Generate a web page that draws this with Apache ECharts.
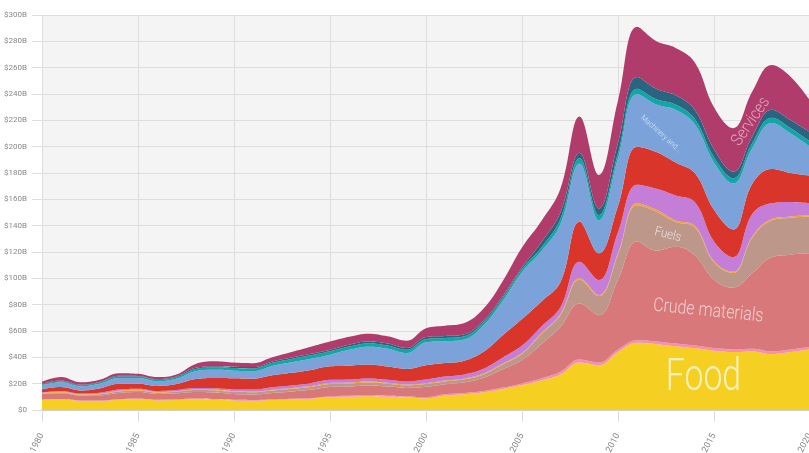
<!DOCTYPE html>
<html>
<head>
<meta charset="utf-8">
<title>Exports by product</title>
<script src="https://cdn.jsdelivr.net/npm/echarts@6/dist/echarts.min.js"></script>
<style>
  html, body { margin: 0; padding: 0; background: #fff; }
  #chart { width: 809px; height: 453px; }
</style>
</head>
<body>
<div id="chart"></div>
<script>
// years (x axis)
var years = ['1980','1981','1982','1983','1984','1985','1986','1987','1988','1989',
             '1990','1991','1992','1993','1994','1995','1996','1997','1998','1999',
             '2000','2001','2002','2003','2004','2005','2006','2007','2008','2009',
             '2010','2011','2012','2013','2014','2015','2016','2017','2018','2019','2020'];

// values in $B, bottom layer first
var food      = [7.6,7.9,6.9,6.8,7.8,8.3,7.3,7.6,8.2,7.8, 7.3,7.0,7.6,8.0,8.5,9.8,10.0,10.5,10.0,9.5, 8.8,11,12,13.5,16,19,22.5,27,36,34, 44,51,50,48.5,47,45,44,44.5,42.5,44,46];
var beverages = [0.4,0.4,0.4,0.4,0.5,0.5,0.5,0.5,0.5,0.5, 0.5,0.5,0.5,0.6,0.6,0.7,0.8,0.8,0.8,0.8, 1,1,1,1,1,1.2,1.5,2,2.3,2, 2,2,2,2,2,2,2,2,2,2,2];
var crude     = [4.3,4.5,3.8,4.0,4.6,4.8,4.4,4.6,5.0,5.0, 4.3,4.3,4.8,5.5,6.3,7.0,7.0,7.3,7.0,6.5, 7.8,7.5,8,10,14,17.8,26,34,42.5,36, 53,75,69,73.5,68.5,52,47,57.5,71.5,72,71];
var fuels     = [0.3,0.5,0.5,0.8,1.2,1.2,1.1,1.2,1.4,1.5, 1.7,1.7,1.9,2.0,2.1,2.2,2.3,2.3,2.2,2.0, 2.2,2.2,2.3,2.5,3.5,4.5,7.5,9,18.2,14.5, 19,27.5,29.5,18.8,21.3,13,11,27,28,28,28];
var oils      = [0.4,0.5,0.4,0.4,0.5,0.5,0.4,0.4,0.5,0.5, 0.5,0.5,0.6,0.6,0.7,0.8,0.8,0.8,0.7,0.6, 0.6,0.7,0.7,0.8,0.8,0.8,0.8,1,1.2,0.8, 1,1.5,1.5,1.2,1.2,1,1,1,1,1,1];
var chemicals = [0.4,0.6,0.5,0.7,0.9,0.9,0.8,0.9,1.1,1.2, 1.3,1.5,1.9,2.0,2.2,2.4,2.3,2.3,2.3,2.3, 2.8,3,3,3.5,4.5,5.6,5,5,12.4,11.4, 16,14,16,19,18,15,11,17,12,11,9];
var manufGoods= [2.3,3.0,2.4,3.3,4.4,3.8,3.8,4.5,6.8,7.8, 8.5,8.3,9,9.5,10,10.3,10.5,10.5,10,9.5, 10.8,10.3,10.5,13,17,20.2,19,19,30.4,20.3, 20,29,28,25,22,24,21,23,26,22,21];
var machinery = [3.1,3.6,3.1,3.5,4.4,4.3,3.6,4,6,6.2, 5.8,5.8,7.2,8,8.5,8.8,12,13.5,13.5,12, 17.5,16.5,16,20,26,35.5,38,44,44.3,25, 36,40,36,40,37,36,35,27,35,30,22];
var miscManuf = [0.7,0.9,0.8,0.9,1.1,1.1,1.1,1.2,1.7,1.8, 2,2,2.4,2.6,2.6,2.6,2.5,2.5,2.5,2.5, 2.5,2.5,2.5,2.5,2.5,2.5,3,4,4,4, 4,4,4,4,4,4,4,4,4,4,4];
var unclass   = [0.5,0.6,0.5,0.5,0.6,0.5,0.5,0.6,0.8,0.9, 1,1,1,1.1,1.2,1.2,1.4,1.5,1.5,1.4, 1.5,1.5,1.5,1.2,1.2,1.3,4,5,4,5, 8,9,8,7,7,6,5,5,6,6,7];
var services  = [1.5,2.5,1.7,1.7,2.0,1.6,1.5,1.5,3,3.8, 3.1,2.9,3.1,4.1,5.3,6.2,6,6,5.5,5.5, 6.5,7.8,8.5,9,11.5,15,16,18,27.7,25.4, 32,38,36,36,36,32,33,34,34,33,24];

var layers = [
  {name: 'Food', data: food, color: '#f5d022'},
  {name: 'Beverages and tobacco', data: beverages, color: '#f58db7'},
  {name: 'Crude materials', data: crude, color: '#d8787a'},
  {name: 'Fuels', data: fuels, color: '#bd978a'},
  {name: 'Animal and vegetable oils', data: oils, color: '#f2a42a'},
  {name: 'Chemicals', data: chemicals, color: '#c47ed8'},
  {name: 'Manufactured goods', data: manufGoods, color: '#d9352b'},
  {name: 'Machinery and transport equipment', data: machinery, color: '#7ba2d9'},
  {name: 'Miscellaneous manufactured articles', data: miscManuf, color: '#13a6a6'},
  {name: 'Unclassified', data: unclass, color: '#2b6481'},
  {name: 'Services', data: services, color: '#b03c6b'}
];

// in-chart labels, anchored in data space [year, $B]
var areaLabels = [
  {text: 'Food', year: 2014.45, value: 24, size: 45, sx: 0.75, rot: 0, color: 'rgba(255,255,255,0.72)'},
  {text: 'Crude materials', year: 2014.7, value: 75, size: 19, sx: 0.84, rot: -5.7, color: 'rgba(255,255,255,0.65)'},
  {text: 'Fuels', year: 2012.6, value: 133, size: 13, sx: 0.88, rot: -14, color: 'rgba(255,255,255,0.7)'},
  {text: 'Machinery and...', year: 2012.24, value: 209.6, size: 8, sx: 0.9, rot: -42, color: 'rgba(255,255,255,0.7)'},
  {text: 'Services', year: 2016.93, value: 219, size: 17, sx: 0.87, rot: 56, color: 'rgba(255,255,255,0.55)'}
];

var gridColor = '#dddddd';
var myChart = echarts.init(document.getElementById('chart'));

myChart.setOption({
  animation: false,
  grid: {
    left: 42, right: -1, top: 15, bottom: 43,
    show: true, backgroundColor: '#f4f4f4', borderWidth: 0,
    containLabel: false, outerBoundsMode: 'none'
  },
  xAxis: {
    type: 'category',
    data: years,
    boundaryGap: false,
    offset: 3,
    axisLine: {lineStyle: {color: '#cfcfcf', width: 2}},
    axisTick: {interval: 4, length: 12, lineStyle: {color: gridColor}},
    axisLabel: {
      interval: 4, rotate: 62, margin: 21,
      color: '#888', fontSize: 9, fontFamily: 'Roboto, sans-serif'
    },
    splitLine: {show: true, interval: 4, lineStyle: {color: gridColor, width: 1}}
  },
  yAxis: {
    type: 'value',
    min: 0, max: 300, interval: 20,
    axisLine: {show: false},
    axisTick: {show: true, length: 10, lineStyle: {color: gridColor}},
    axisLabel: {
      margin: 15, color: '#888', fontSize: 8, fontFamily: 'Roboto, sans-serif',
      formatter: function (v) { return v === 0 ? '$0' : '$' + v + 'B'; }
    },
    splitLine: {lineStyle: {color: gridColor, width: 1}}
  },
  series: layers.map(function (l) {
    return {
      name: l.name,
      type: 'line',
      stack: 'total',
      smooth: 0.4,
      symbol: 'none',
      lineStyle: {width: 0},
      areaStyle: {color: l.color, opacity: 1},
      itemStyle: {color: l.color},
      emphasis: {disabled: true},
      data: l.data
    };
  })
});

// place the area labels through the chart's own scales
function toPixel(year, value) {
  var i = Math.floor(year - 1980), f = year - 1980 - i;
  var a = myChart.convertToPixel({gridIndex: 0}, [i, value]);
  var b = myChart.convertToPixel({gridIndex: 0}, [i + 1, value]);
  return [a[0] + (b[0] - a[0]) * f, a[1]];
}

myChart.setOption({
  graphic: areaLabels.map(function (t) {
    var p = toPixel(t.year, t.value);
    return {
      type: 'text',
      z: 100,
      x: p[0], y: p[1],
      rotation: t.rot * Math.PI / 180,
      scaleX: t.sx,
      silent: true,
      style: {
        text: t.text,
        fill: t.color,
        font: '300 ' + t.size + 'px Roboto, sans-serif',
        align: 'center',
        verticalAlign: 'middle'
      }
    };
  })
});
</script>
</body>
</html>
